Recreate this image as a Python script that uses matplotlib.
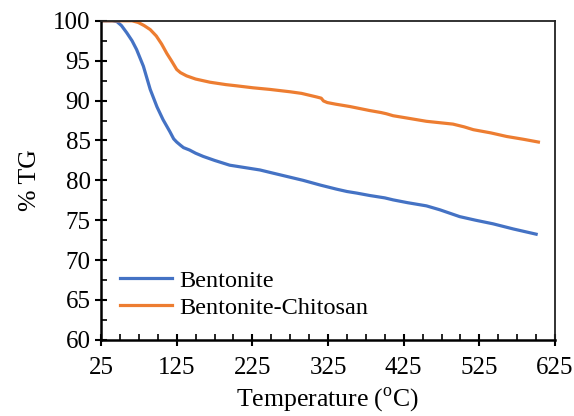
import matplotlib
matplotlib.use("Agg")
import matplotlib.pyplot as plt
from matplotlib.ticker import MultipleLocator

plt.rcParams['font.family'] = ['Liberation Serif', 'DejaVu Serif']
plt.rcParams['mathtext.fontset'] = 'custom'
plt.rcParams['mathtext.rm'] = 'Liberation Serif'

# Thermogravimetric curves (temperature in °C, mass remaining in %)
bentonite_T = [25, 40, 46, 52, 59, 66, 72, 81, 90, 99, 107, 116, 121, 125, 130, 134,
               142, 150, 160, 175, 195, 215, 235, 248, 270, 292, 315, 336, 350, 363,
               380, 400, 411, 430, 455, 473, 499, 520, 543, 570, 600]
bentonite_tg = [100, 100, 99.9, 99.4, 98.5, 97.5, 96.4, 94.3, 91.4, 89.2, 87.6, 86.1,
                85.2, 84.8, 84.4, 84.1, 83.8, 83.4, 83.0, 82.5, 81.9, 81.6, 81.3, 81.0,
                80.5, 80.0, 79.4, 78.9, 78.6, 78.4, 78.1, 77.8, 77.55, 77.2, 76.8, 76.3,
                75.45, 75.0, 74.55, 73.9, 73.25]

chitosan_T = [25, 50, 60, 66, 74, 82, 90, 98, 105, 112, 118, 125, 130, 138, 150, 169,
              190, 204, 226, 248, 275, 290, 310, 316, 319, 324, 335, 354, 367, 380, 395,
              402, 411, 430, 455, 475, 490, 505, 517, 540, 561, 583, 603]
chitosan_tg = [100, 100, 100, 100, 99.8, 99.4, 98.9, 98.1, 97.1, 95.9, 95.0, 93.9, 93.5,
               93.1, 92.7, 92.3, 92.0, 91.85, 91.6, 91.4, 91.1, 90.9, 90.45, 90.3, 89.95,
               89.75, 89.55, 89.25, 89.0, 88.75, 88.5, 88.35, 88.1, 87.8, 87.4, 87.2,
               87.05, 86.7, 86.35, 85.95, 85.5, 85.15, 84.8]

x_ticks = [25, 125, 225, 325, 425, 525, 625]
y_ticks = [60, 65, 70, 75, 80, 85, 90, 95, 100]

fig = plt.figure(figsize=(5.74, 4.16), dpi=100)
ax = fig.add_axes([0.176, 0.183, 0.791, 0.767])

ax.plot(bentonite_T, bentonite_tg, color='#4472C4', lw=2.3, label='Bentonite')
ax.plot(chitosan_T, chitosan_tg, color='#ED7D31', lw=2.3, label='Bentonite-Chitosan')

ax.set_xlim(25, 625)
ax.set_ylim(60, 100)
ax.set_xticks(x_ticks)
ax.set_yticks(y_ticks)
ax.xaxis.set_minor_locator(MultipleLocator(25))
ax.yaxis.set_minor_locator(MultipleLocator(2.5))

for side in ('left', 'bottom'):
    ax.spines[side].set_linewidth(1.8)
    ax.spines[side].set_color('black')
for side in ('top', 'right'):
    ax.spines[side].set_linewidth(1.3)
    ax.spines[side].set_color('#222222')

ax.tick_params(which='major', direction='inout', length=9, width=1.5,
               labelsize=18, top=False, right=False)
ax.tick_params(axis='x', which='major', pad=8)
ax.tick_params(axis='y', which='major', pad=3)
ax.tick_params(which='minor', direction='in', length=4.5, width=1.2,
               top=False, right=False)

ax.set_xlabel('Temperature ($^{\\mathrm{o}}$C)', fontsize=18.5, labelpad=4)
ax.set_ylabel('% TG', fontsize=18.5, labelpad=9)

ax.legend(loc='lower left', bbox_to_anchor=(0.0, 0.005), frameon=False, fontsize=17.5,
          handlelength=2.1, handletextpad=0.3, labelspacing=0.2, borderaxespad=0.4)

fig.savefig('out.png', dpi=100)
